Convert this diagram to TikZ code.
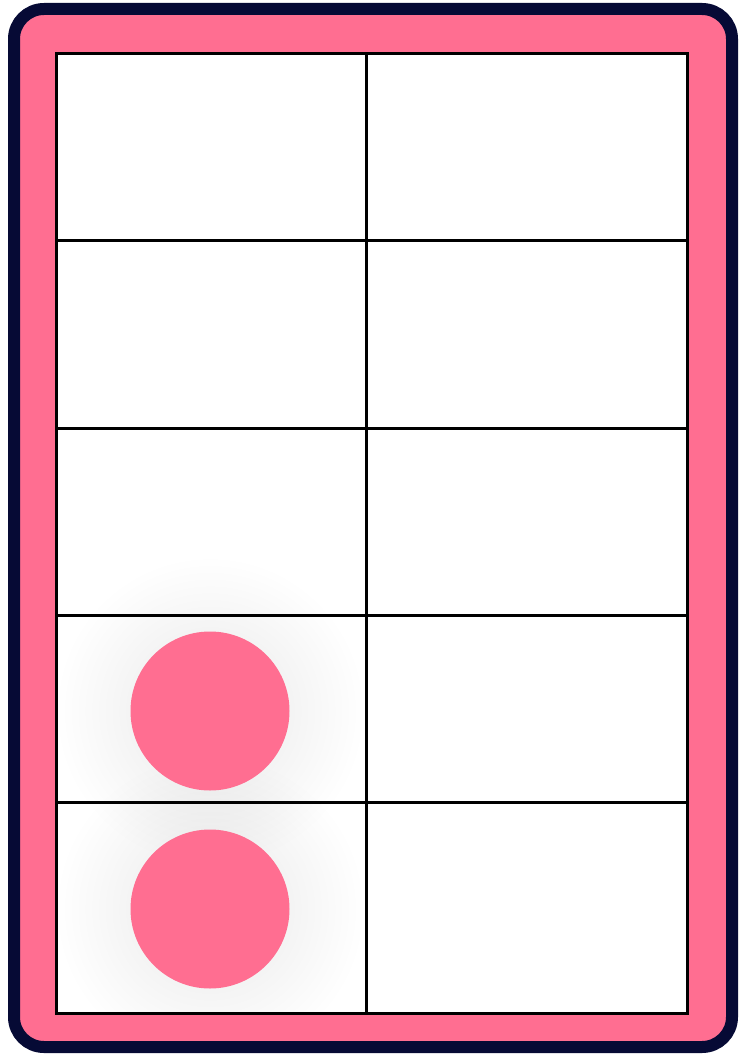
\documentclass[tikz,border=0pt]{standalone}
\usetikzlibrary{fadings}
\definecolor{cardpink}{HTML}{FF6E91}
\definecolor{cardnavy}{HTML}{060A35}
\tikzfading[name=softshadow, inner color=transparent!91, outer color=transparent!100]
\tikzset{
  grid line/.style={line width=3pt, draw=black},
  dot/.style={circle, fill=cardpink, inner sep=0pt, minimum size=159pt},
  dotshadow/.style={fill=black, path fading=softshadow},
}
\begin{document}
\begin{tikzpicture}[x=1pt, y=-1pt]
\useasboundingbox (0,0) rectangle (739,1056);
% card
\draw[line width=12pt, draw=cardnavy, fill=cardpink, rounded corners=30pt] (14,9) rectangle (732,1047);
% grid background
\fill[white] (56,54) rectangle (687,1013);
% shadows
\begin{scope}
\clip (56,54) rectangle (687,1013);
\fill[dotshadow] (210,711) circle (155);
\fill[dotshadow] (210,909) circle (155);
\end{scope}
% grid
\draw[grid line] (56,54) rectangle (687,1013);
\draw[grid line] (366,54) -- (366,1013);
\foreach \y in {241,428,615,802} \draw[grid line] (56,\y) -- (687,\y);
% dots
\node[dot] (d1) at (210,711) {};
\node[dot] (d2) at (210,909) {};
\end{tikzpicture}
\end{document}
